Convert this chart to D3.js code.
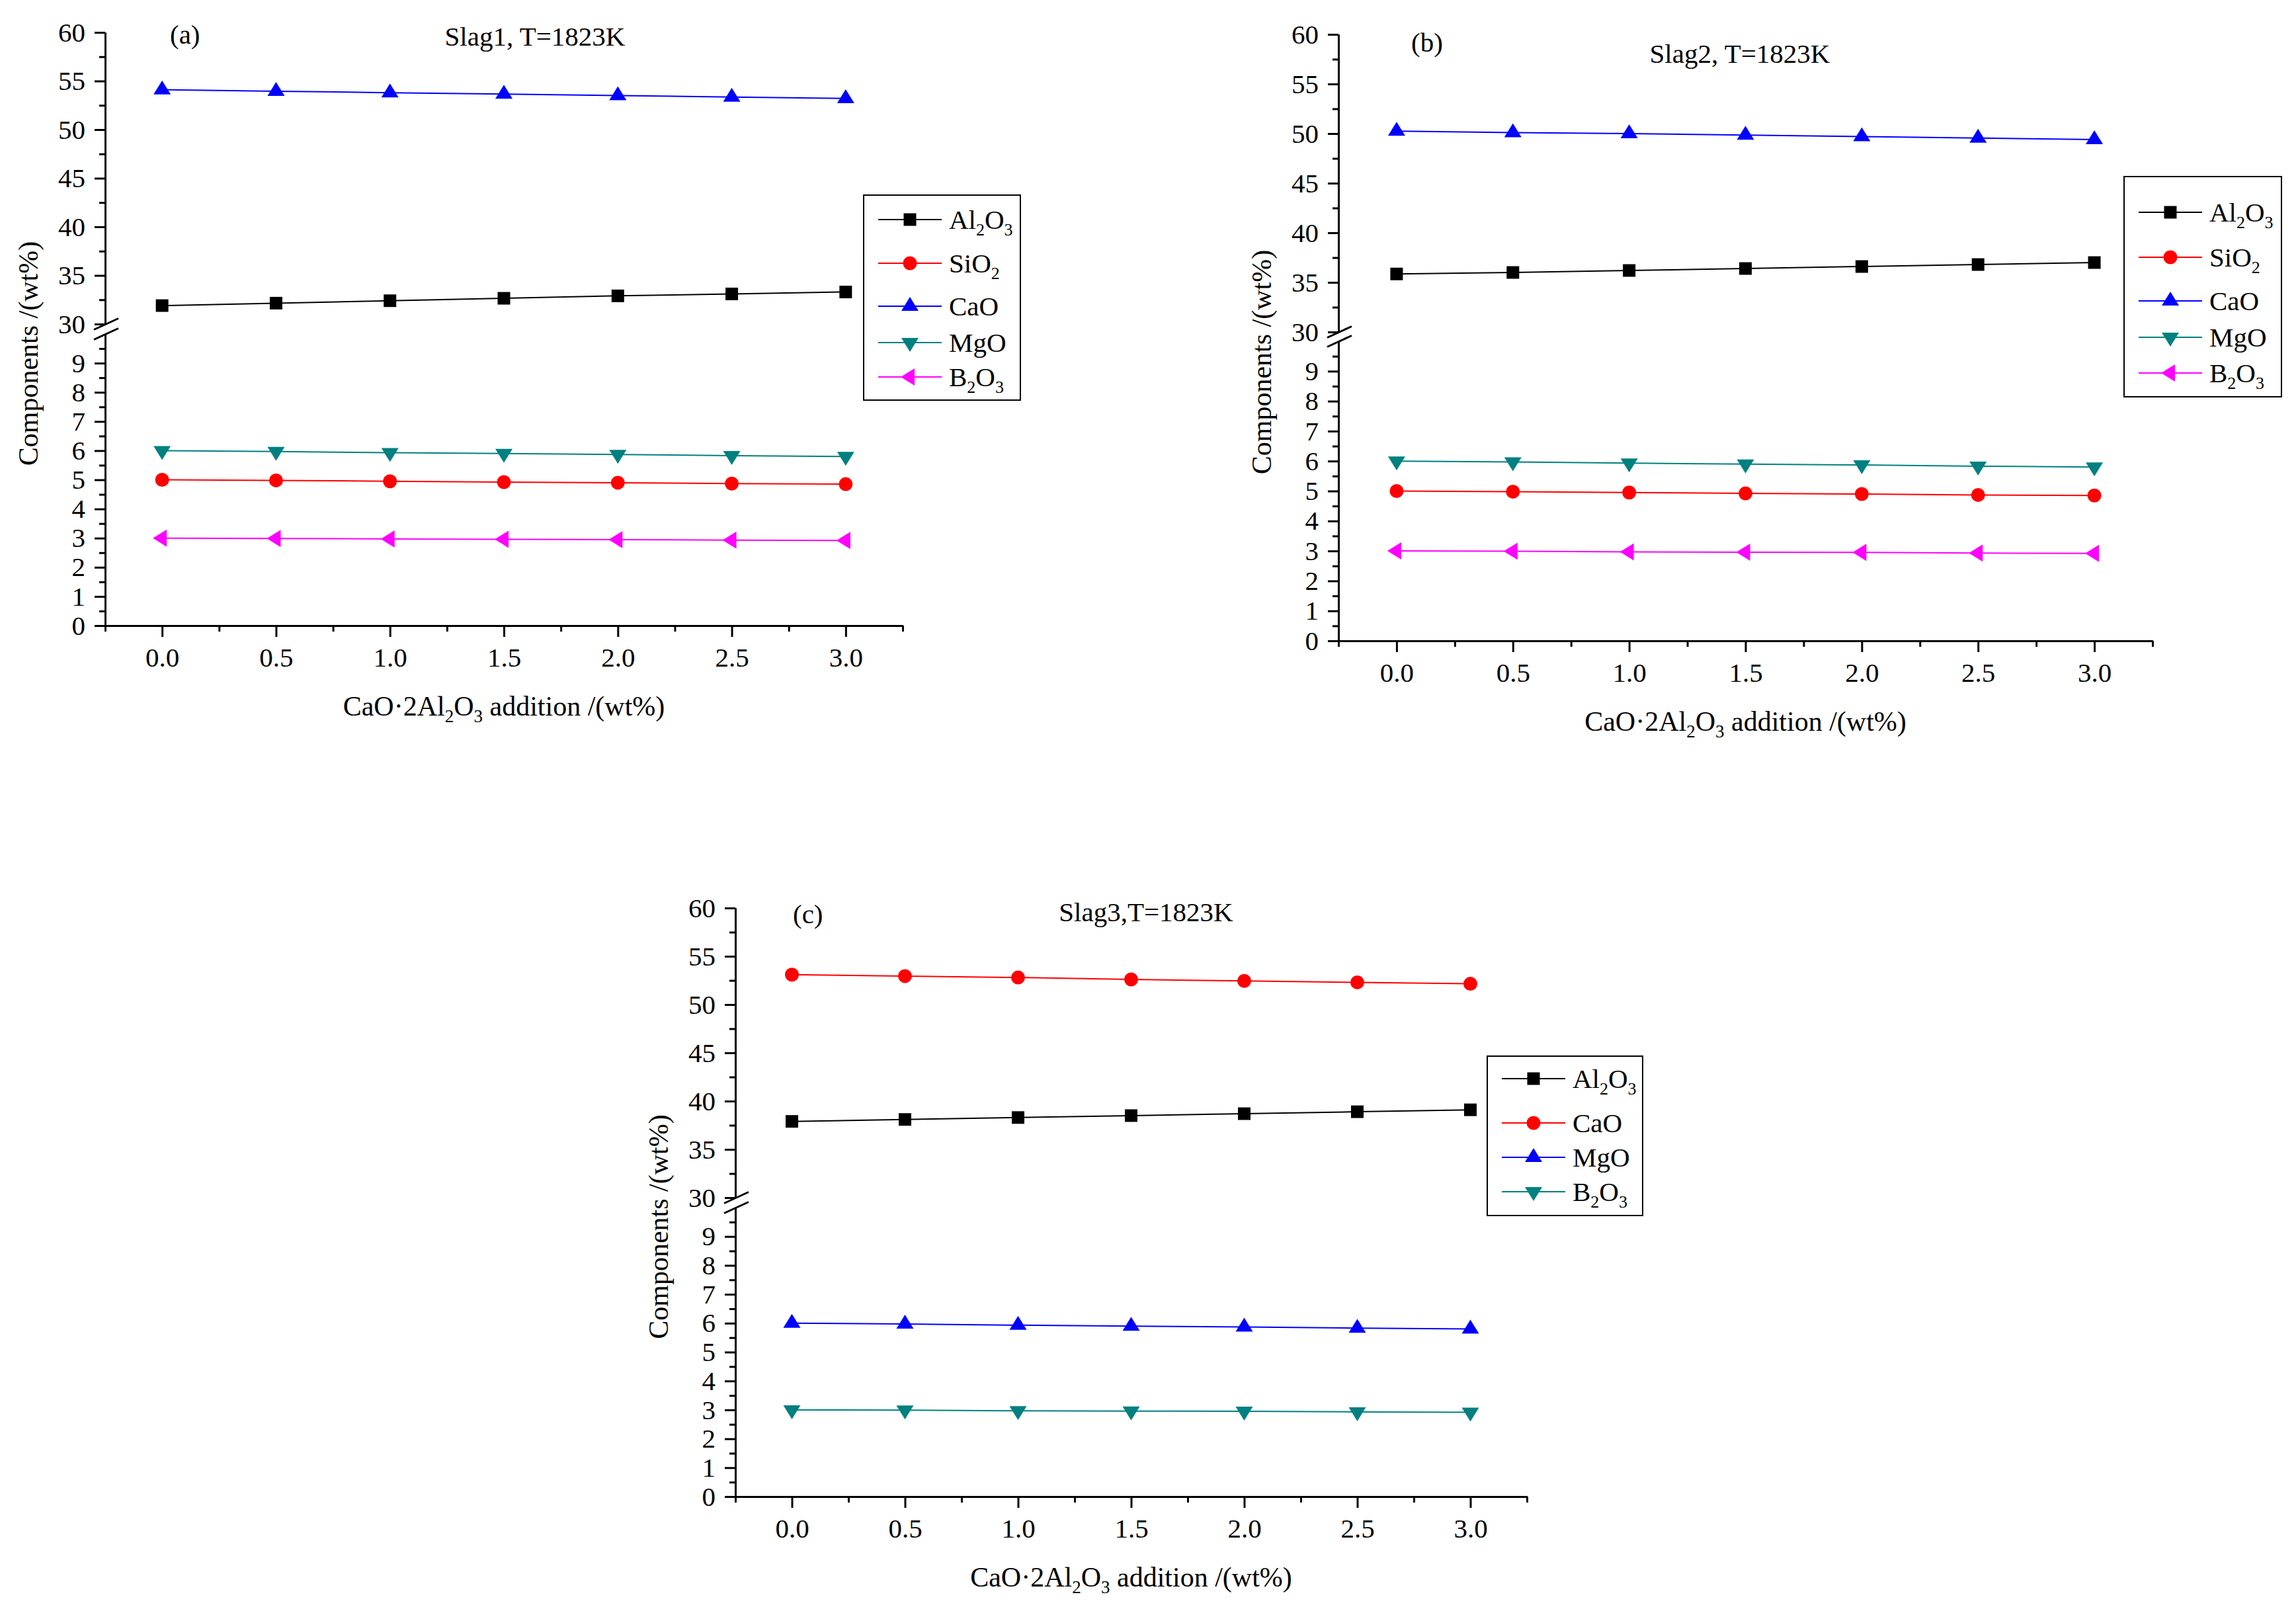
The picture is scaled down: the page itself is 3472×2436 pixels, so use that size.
<!DOCTYPE html>
<head>
  <meta charset="utf-8">
  <title>Slag components vs CaO·2Al2O3 addition</title>
  <style>
    body { margin: 0; background: #fff; }
    svg { display: block; }
    text { font-family: "Liberation Serif", "Times New Roman", serif; fill: #000; }
  </style>
</head>

<body>
  <div id="chart"></div>

  <script src="https://cdn.jsdelivr.net/npm/d3@7"></script>
  <script type="text/javascript">

    // x values and ticks
    const xValues = [0, 0.5, 1.0, 1.5, 2.0, 2.5, 3.0];
    const xMajorTicks = [0, 0.5, 1.0, 1.5, 2.0, 2.5, 3.0];
    const xMinorTicks = [-0.25, 0.25, 0.75, 1.25, 1.75, 2.25, 2.75, 3.25];

    // broken y axis: upper part 30-60, lower part 0-10
    const yUpperTicks = [30, 35, 40, 45, 50, 55, 60];
    const yUpperMinor = [32.5, 37.5, 42.5, 47.5, 52.5, 57.5];
    const yLowerTicks = [0, 1, 2, 3, 4, 5, 6, 7, 8, 9];
    const yLowerMinor = [0.5, 1.5, 2.5, 3.5, 4.5, 5.5, 6.5, 7.5, 8.5, 9.5];

    // Slag1 (a)
    const slag1Al2O3 = [31.9, 32.15, 32.4, 32.65, 32.9, 33.1, 33.3];
    const slag1SiO2  = [5.0, 4.98, 4.95, 4.92, 4.9, 4.87, 4.85];
    const slag1CaO   = [54.1, 53.95, 53.8, 53.65, 53.5, 53.35, 53.2];
    const slag1MgO   = [6.0, 5.97, 5.93, 5.9, 5.87, 5.83, 5.8];
    const slag1B2O3  = [3.0, 2.99, 2.97, 2.96, 2.95, 2.93, 2.92];

    // Slag2 (b)
    const slag2Al2O3 = [35.85, 36.0, 36.2, 36.4, 36.6, 36.8, 37.0];
    const slag2SiO2  = [5.0, 4.98, 4.95, 4.92, 4.9, 4.87, 4.85];
    const slag2CaO   = [50.25, 50.1, 50.0, 49.85, 49.7, 49.55, 49.4];
    const slag2MgO   = [6.0, 5.97, 5.93, 5.9, 5.87, 5.83, 5.8];
    const slag2B2O3  = [3.0, 2.99, 2.97, 2.96, 2.95, 2.93, 2.92];

    // Slag3 (c)
    const slag3Al2O3 = [37.9, 38.1, 38.3, 38.5, 38.7, 38.9, 39.1];
    const slag3CaO   = [53.1, 52.95, 52.8, 52.6, 52.45, 52.3, 52.15];
    const slag3MgO   = [6.0, 5.97, 5.93, 5.9, 5.87, 5.83, 5.8];
    const slag3B2O3  = [3.0, 2.99, 2.97, 2.96, 2.95, 2.93, 2.92];

    // legend names: alternating normal / subscript pieces
    const nameAl2O3 = ["Al", "2", "O", "3"];
    const nameSiO2  = ["SiO", "2"];
    const nameCaO   = ["CaO"];
    const nameMgO   = ["MgO"];
    const nameB2O3  = ["B", "2", "O", "3"];

    // Origin default plot styles, applied in order
    const styles = [
      {color: "#000000", marker: "square"},
      {color: "#ff0000", marker: "circle"},
      {color: "#0000ff", marker: "up"},
      {color: "#008080", marker: "down"},
      {color: "#ff00ff", marker: "left"}
    ];

    const panels = [
      {
        left: 159, right: 1365, bottom: 946, lowerTop: 505, upperBottom: 490, top: 49,
        tag: "(a)", tagX: 257, tagY: 52, title: "Slag1, T=1823K", titleX: 809, titleY: 55,
        legend: {x: 1306, y: 295, w: 237, h: 310, rows: [332, 398, 463, 518, 570]},
        series: [[nameAl2O3, slag1Al2O3], [nameSiO2, slag1SiO2], [nameCaO, slag1CaO],
                 [nameMgO, slag1MgO], [nameB2O3, slag1B2O3]]
      },
      {
        left: 2024, right: 3255, bottom: 969, lowerTop: 516, upperBottom: 502, top: 52,
        tag: "(b)", tagX: 2134, tagY: 64, title: "Slag2, T=1823K", titleX: 2631, titleY: 81,
        legend: {x: 3212, y: 267, w: 238, h: 333, rows: [321, 389, 455, 510, 564]},
        series: [[nameAl2O3, slag2Al2O3], [nameSiO2, slag2SiO2], [nameCaO, slag2CaO],
                 [nameMgO, slag2MgO], [nameB2O3, slag2B2O3]]
      },
      {
        left: 1112, right: 2309, bottom: 2263, lowerTop: 1826, upperBottom: 1811, top: 1373,
        tag: "(c)", tagX: 1199, tagY: 1382, title: "Slag3,T=1823K", titleX: 1733, titleY: 1379,
        legend: {x: 2249, y: 1597, w: 235, h: 241, rows: [1631, 1698, 1750, 1802]},
        series: [[nameAl2O3, slag3Al2O3], [nameCaO, slag3CaO], [nameMgO, slag3MgO],
                 [nameB2O3, slag3B2O3]]
      }
    ];

    const W = 3472, H = 2436;
    const svg = d3.select("#chart").append("svg")
        .attr("width", W)
        .attr("height", H);
    svg.append("rect").attr("width", W).attr("height", H).attr("fill", "#fff");

    function markerPath(type) {
      if (type == "square") return "M-9.5,-9.5H9.5V9.5H-9.5Z";
      if (type == "circle") return d3.symbol(d3.symbolCircle, Math.PI * 10.5 * 10.5)();
      if (type == "up") return "M0,-14L13,7L-13,7Z";
      if (type == "down") return "M-13,-7L13,-7L0,14Z";
      return "M-14,0L7,-13L7,13Z";
    }

    // writes pieces like ["Al","2","O","3"] with subscripts into a text node
    function subText(sel, parts, subSize) {
      let shifted = false;
      parts.forEach((p, i) => {
        const sub = i % 2 == 1;
        const t = sel.append("tspan").text(p);
        if (sub) { t.attr("font-size", subSize).attr("dy", 15); shifted = true; }
        else if (shifted) { t.attr("dy", -15); shifted = false; }
      });
    }

    function styleAxis(g) {
      g.select(".domain").attr("stroke", "#000").attr("stroke-width", 3);
      g.selectAll(".tick line").attr("stroke", "#000").attr("stroke-width", 3);
      g.selectAll(".tick text").attr("font-family", "Liberation Serif").attr("font-size", 41).attr("fill", "#000");
    }

    panels.forEach(p => {
      const g = svg.append("g");

      const x = d3.scaleLinear().domain([-0.25, 3.25]).range([p.left, p.right]);
      const yUp = d3.scaleLinear().domain([30, 60]).range([p.upperBottom, p.top]);
      const yLo = d3.scaleLinear().domain([0, 10]).range([p.bottom, p.lowerTop]);
      const y = v => v >= 20 ? yUp(v) : yLo(v);

      // x axis
      g.append("g").attr("transform", "translate(0," + p.bottom + ")")
          .call(d3.axisBottom(x).tickValues(xMinorTicks).tickSize(9).tickSizeOuter(0).tickFormat(""))
          .call(styleAxis);
      g.append("g").attr("transform", "translate(0," + p.bottom + ")")
          .call(d3.axisBottom(x).tickValues(xMajorTicks).tickSize(17).tickSizeOuter(0)
                .tickPadding(16).tickFormat(d3.format(".1f")))
          .call(styleAxis);

      // y axis, two segments
      [[yUp, yUpperTicks, yUpperMinor], [yLo, yLowerTicks, yLowerMinor]].forEach(([sc, major, minor]) => {
        g.append("g").attr("transform", "translate(" + p.left + ",0)")
            .call(d3.axisLeft(sc).tickValues(minor).tickSize(9).tickSizeOuter(0).tickFormat(""))
            .call(styleAxis);
        g.append("g").attr("transform", "translate(" + p.left + ",0)")
            .call(d3.axisLeft(sc).tickValues(major).tickSize(16).tickSizeOuter(0).tickPadding(14).tickFormat(d3.format("d")))
            .call(styleAxis);
      });

      // break marks
      [p.upperBottom, p.lowerTop].forEach(by => {
        g.append("line")
            .attr("x1", p.left - 17).attr("y1", by + 8.5)
            .attr("x2", p.left + 20).attr("y2", by - 8.5)
            .attr("stroke", "#000").attr("stroke-width", 3);
      });

      // series
      const line = d3.line().x((d, i) => x(xValues[i])).y(d => y(d));
      p.series.forEach(([name, vals], k) => {
        const st = styles[k];
        g.append("path").datum(vals)
            .attr("d", line)
            .attr("fill", "none")
            .attr("stroke", st.color)
            .attr("stroke-width", 2);
        g.selectAll(null).data(vals).enter().append("path")
            .attr("d", markerPath(st.marker))
            .attr("transform", (d, i) => "translate(" + x(xValues[i]) + "," + y(d) + ")")
            .attr("fill", st.color);
      });

      // labels
      g.append("text").attr("x", p.tagX).attr("y", p.tagY)
          .attr("dominant-baseline", "central").attr("font-size", 41).text(p.tag);
      g.append("text").attr("x", p.titleX).attr("y", p.titleY)
          .attr("dominant-baseline", "central").attr("text-anchor", "middle")
          .attr("font-size", 41).text(p.title);

      const xl = g.append("text")
          .attr("x", (p.left + p.right) / 2).attr("y", p.bottom + 122)
          .attr("dominant-baseline", "central").attr("text-anchor", "middle")
          .attr("font-size", 42);
      subText(xl, ["CaO·2Al", "2", "O", "3", " addition /(wt%)"], 27);

      g.append("text")
          .attr("transform", "translate(" + (p.left - 116) + "," + ((p.top + p.bottom) / 2 + 37) + ") rotate(-90)")
          .attr("dominant-baseline", "central").attr("text-anchor", "middle")
          .attr("font-size", 42)
          .text("Components /(wt%)");

      // legend
      const L = p.legend;
      g.append("rect")
          .attr("x", L.x).attr("y", L.y).attr("width", L.w).attr("height", L.h)
          .attr("fill", "#fff").attr("stroke", "#000").attr("stroke-width", 2);
      p.series.forEach(([name, vals], k) => {
        const st = styles[k];
        const ry = L.rows[k];
        g.append("line")
            .attr("x1", L.x + 22).attr("x2", L.x + 118)
            .attr("y1", ry).attr("y2", ry)
            .attr("stroke", st.color).attr("stroke-width", 2);
        g.append("path")
            .attr("d", markerPath(st.marker))
            .attr("transform", "translate(" + (L.x + 70) + "," + ry + ")")
            .attr("fill", st.color);
        const t = g.append("text")
            .attr("x", L.x + 129).attr("y", ry)
            .attr("dominant-baseline", "central")
            .attr("font-size", 41);
        subText(t, name, 26);
      });
    });

  </script>

</body>
